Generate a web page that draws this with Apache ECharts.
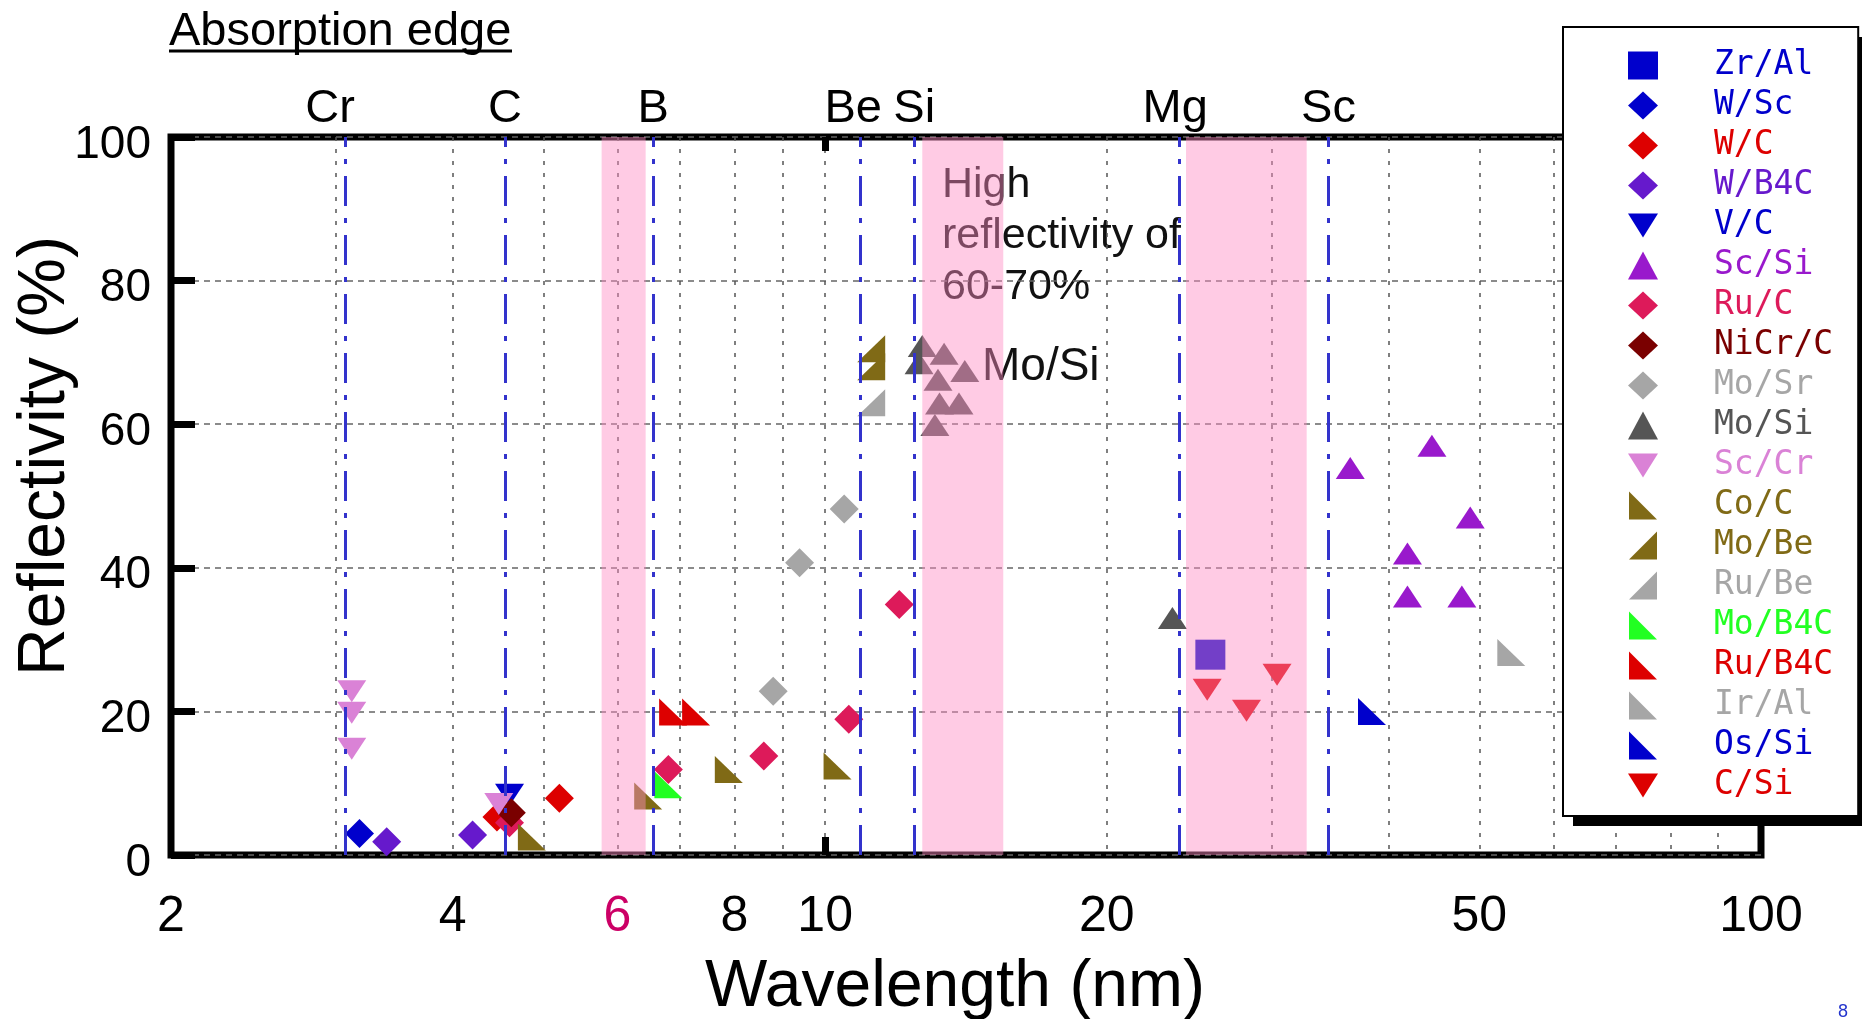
<!DOCTYPE html>
<html>
<head>
<meta charset="utf-8">
<title>Reflectivity of multilayers vs wavelength</title>
<script src="https://cdn.jsdelivr.net/npm/echarts@6/dist/echarts.min.js"></script>
<style>
  html, body { margin: 0; padding: 0; background: #fff; }
  #chart { width: 1870px; height: 1019px; }
</style>
</head>
<body>
<div id="chart"></div>
<script>
// axis ticks
const xLabelValues = [2, 4, 6, 8, 10, 20, 50, 100];
const xGridValues = [3, 4, 5, 6, 7, 8, 9, 10, 20, 30, 40, 50, 60, 70, 80, 90];

// absorption edges (nm)
const edgeNames = ['Cr', 'C', 'B', 'Be', 'Si', 'Mg', 'Sc'];
const edgeWavelengths = [3.07, 4.55, 6.55, 10.9, 12.45, 23.9, 34.5];

// pink bands (nm)
const bandStarts = [5.77, 12.7, 24.3];
const bandEnds = [6.43, 15.5, 32.7];

// [wavelength nm, reflectivity %]
const zrAl = [[25.8, 27.9]];
const wSc = [[3.18, 3.0]];
const wC = [[4.46, 5.3], [5.20, 7.9]];
const wB4C = [[3.40, 1.85], [4.20, 2.8]];
const vC = [[4.60, 8.4]];
const scSi = [[36.4, 53.9], [44.5, 57.0], [48.9, 47.0], [41.9, 42.0], [41.9, 36.0], [47.9, 36.0]];
const ruC = [[4.60, 4.5], [6.80, 11.9], [8.60, 13.8], [10.6, 18.9], [12.0, 34.9]];
const niCrC = [[4.62, 5.9]];
const moSr = [[8.80, 22.8], [9.39, 40.7], [10.48, 48.2]];
const moSi = [[12.7, 70.9], [12.6, 68.5], [13.4, 69.8], [14.1, 67.4], [13.2, 66.2],
              [13.25, 62.9], [13.9, 62.9], [13.1, 59.9], [23.5, 33.0]];
const scCr = [[3.12, 22.8], [3.12, 19.8], [3.12, 14.8], [4.48, 7.1]];
const coC = [[4.86, 2.5], [6.47, 8.2], [7.89, 11.9], [10.31, 12.4]];
const moBe = [[11.2, 70.5], [11.2, 68.0]];
const ruBe = [[11.2, 63.0]];
const moB4C = [[6.80, 9.8]];
const ruB4C = [[6.88, 19.9], [7.28, 19.9]];
const irAl = [[54.1, 28.2]];
const osSi = [[38.4, 20.0]];
const cSi = [[25.6, 23.0], [28.2, 20.1], [30.4, 25.1]];

// marker shapes
const SQUARE = 'rect';
const DIAMOND = 'diamond';
const UP = 'triangle';
const DOWN = 'path://M0,0 L10,0 L5,8 Z';
const TRI_BL = 'path://M0,0 L0,10 L10,10 Z';
const TRI_BR = 'path://M10,0 L10,10 L0,10 Z';

// name, data, colour, symbol, size
const materials = [
  ['Zr/Al', zrAl, '#0000cc', SQUARE, [30, 30]],
  ['W/Sc', wSc, '#0000cc', DIAMOND, [29, 29]],
  ['W/C', wC, '#dd0000', DIAMOND, [29, 29]],
  ['W/B4C', wB4C, '#6619cc', DIAMOND, [29, 29]],
  ['V/C', vC, '#0000cc', DOWN, [29, 22]],
  ['Sc/Si', scSi, '#9919cc', UP, [29, 22]],
  ['Ru/C', ruC, '#dd1a5a', DIAMOND, [29, 29]],
  ['NiCr/C', niCrC, '#7a0000', DIAMOND, [29, 29]],
  ['Mo/Sr', moSr, '#a6a6a6', DIAMOND, [29, 29]],
  ['Mo/Si', moSi, '#555555', UP, [29, 22]],
  ['Sc/Cr', scCr, '#da82d6', DOWN, [29, 22]],
  ['Co/C', coC, '#806a16', TRI_BL, [28, 27]],
  ['Mo/Be', moBe, '#806a16', TRI_BR, [28, 27]],
  ['Ru/Be', ruBe, '#a6a6a6', TRI_BR, [28, 27]],
  ['Mo/B4C', moB4C, '#22ff22', TRI_BL, [28, 27]],
  ['Ru/B4C', ruB4C, '#dd0000', TRI_BL, [28, 27]],
  ['Ir/Al', irAl, '#a6a6a6', TRI_BL, [28, 27]],
  ['Os/Si', osSi, '#0000cc', TRI_BL, [28, 27]],
  ['C/Si', cSi, '#dd0000', DOWN, [29, 22]]
];

// element labels that sit a little left of their edge line
const edgeLabelShift = { Cr: -15, Be: -7, Mg: -4 };

const chart = echarts.init(document.getElementById('chart'));

const series = materials.map(m => ({
  name: m[0],
  type: 'scatter',
  data: m[1],
  symbol: m[3],
  symbolSize: m[4],
  itemStyle: { color: m[2], opacity: 1 },
  z: 3
}));

// edges and bands
series.push({
  name: 'edges',
  type: 'scatter',
  data: [],
  markLine: {
    silent: true,
    symbol: ['none', 'none'],
    lineStyle: { color: '#3333cc', width: 3, type: [30, 12, 5, 12] },
    label: {
      show: true, position: 'end', formatter: '{b}', distance: 4,
      color: '#000', fontSize: 47, fontFamily: 'Liberation Sans'
    },
    data: edgeNames.map((n, i) => ({
      name: n,
      xAxis: edgeWavelengths[i],
      label: { offset: [edgeLabelShift[n] || 0, 0] }
    }))
  },
  markArea: {
    silent: true,
    z: 10,
    itemStyle: { color: 'rgba(255, 140, 195, 0.45)' },
    data: bandStarts.map((s, i) => [{ xAxis: s }, { xAxis: bandEnds[i] }])
  }
});

const option = {
  animation: false,
  backgroundColor: '#fff',
  textStyle: { fontFamily: 'Liberation Sans, Arial, sans-serif' },
  grid: {
    left: 171, top: 137, right: 109, bottom: 164,
    outerBoundsMode: 'none',
    containLabel: false,
    show: true, borderColor: '#000', borderWidth: 7, backgroundColor: 'transparent'
  },
  xAxis: [
    {
      type: 'log', logBase: 10, min: 2, max: 100, position: 'bottom',
      axisLine: { show: false, onZero: false },
      axisTick: { show: true, inside: true, length: 18, customValues: [10], lineStyle: { color: '#000', width: 7 } },
      axisLabel: {
        customValues: xLabelValues,
        formatter: v => String(Math.round(v)),
        fontSize: 50, margin: 37,
        color: v => (Math.abs(v - 6) < 1e-6 ? '#cc0066' : '#000')
      },
      splitLine: { show: false },
      name: 'Wavelength (nm)', nameLocation: 'middle', nameGap: 100,
      nameTextStyle: { fontSize: 66, color: '#000', padding: [0, 22, 0, 0] }
    },
    {
      type: 'log', logBase: 10, min: 2, max: 100, position: 'top',
      axisLine: { show: false, onZero: false },
      axisTick: { show: true, inside: true, length: 14, customValues: [10], lineStyle: { color: '#000', width: 7 } },
      axisLabel: { show: false },
      splitLine: { show: false }
    },
    {
      type: 'log', logBase: 10, min: 2, max: 100, position: 'bottom',
      axisLine: { show: false, onZero: false },
      axisTick: { show: false, customValues: xGridValues },
      axisLabel: { show: false },
      splitLine: { show: true, lineStyle: { color: '#555', width: 1.5, type: [4, 8] } }
    }
  ],
  yAxis: {
    type: 'value', min: 0, max: 100, interval: 20,
    axisLine: { show: false },
    axisTick: { show: true, inside: true, length: 24, lineStyle: { color: '#000', width: 7 } },
    axisLabel: {
      margin: 20,
      formatter: v => '{t|' + v + '}',
      rich: { t: { fontSize: 46, color: '#000', padding: [16, 0, 0, 0] } }
    },
    splitLine: { show: true, lineStyle: { color: '#666', width: 1.5, type: [6, 5] } },
    name: 'Reflectivity (%)', nameLocation: 'middle', nameGap: 92,
    nameMoveOverlap: false,
    nameTextStyle: { fontSize: 66, color: '#000', padding: [0, 0, 0, 80] }
  },
  legend: {
    orient: 'vertical',
    left: 1563, top: 27,
    padding: [22, 25, 14, 65],
    itemGap: 7, itemWidth: 30, itemHeight: 28,
    selectedMode: false,
    backgroundColor: '#fff',
    borderColor: '#000', borderWidth: 2,
    textStyle: { fontFamily: 'DejaVu Sans Mono', fontSize: 33, lineHeight: 33, padding: [0, 0, 0, 51] },
    data: materials.map(m => ({ name: m[0], textStyle: { color: m[2] } }))
  },
  graphic: [
    {
      // drop shadow behind the legend box
      type: 'rect', z: 3,
      shape: { x: 1573, y: 37, width: 289, height: 789 },
      style: { fill: '#000' }
    },
    {
      type: 'text', x: 169, y: 32, z: 0,
      style: { text: 'Absorption edge', fontSize: 47, fontFamily: 'Liberation Sans', fill: '#000',
               align: 'left', textAlign: 'left', verticalAlign: 'middle', textVerticalAlign: 'middle' }
    },
    {
      type: 'line', z: 0,
      shape: { x1: 169, y1: 51, x2: 512, y2: 51 },
      style: { stroke: '#000', lineWidth: 3 }
    },
    {
      type: 'text', x: 942, y: 160, z: 0,
      style: { text: 'High\nreflectivity of\n60-70%', fontSize: 43, lineHeight: 51,
               fontFamily: 'Liberation Sans', fill: '#111',
               align: 'left', textAlign: 'left', verticalAlign: 'top', textVerticalAlign: 'top' }
    },
    {
      type: 'text', x: 982, y: 367, z: 0,
      style: { text: 'Mo/Si', fontSize: 46, fontFamily: 'Liberation Sans', fill: '#111',
               align: 'left', textAlign: 'left', verticalAlign: 'middle', textVerticalAlign: 'middle' }
    },
    {
      type: 'text', x: 1838, y: 1012, z: 0,
      style: { text: '8', fontSize: 18, fontFamily: 'Liberation Sans', fill: '#2233cc',
               align: 'left', textAlign: 'left', verticalAlign: 'middle', textVerticalAlign: 'middle' }
    }
  ],
  series: series
};

chart.setOption(option);
</script>
</body>
</html>
